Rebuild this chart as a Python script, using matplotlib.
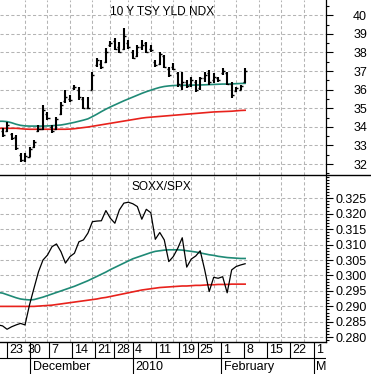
import numpy as np
import pandas as pd
import matplotlib
matplotlib.use('Agg')
import matplotlib.pyplot as plt
from matplotlib.lines import Line2D
from matplotlib.ticker import MultipleLocator

plt.rcParams['font.family'] = ['Liberation Sans', 'DejaVu Sans']

# ---------------- data ----------------
holidays = ['2009-11-26', '2009-12-25', '2010-01-01', '2010-01-18']
line_start, bar_start, data_end = '2009-11-19', '2009-11-20', '2010-02-10'

tsy_high = [33.92, 34.28, 33.65, 33.56, 32.58, 32.58, 32.93, 33.29, 34.10, 35.18,
            34.82, 34.10, 34.55, 35.35, 35.98, 35.71, 36.25, 36.16, 35.62, 35.62,
            36.97, 37.69, 37.60, 38.22, 38.63, 38.76, 38.58, 39.30, 38.67, 38.13,
            38.40, 38.67, 38.58, 38.40, 37.60, 38.04, 37.86, 37.24, 37.42, 36.97,
            36.97, 36.52, 36.70, 36.52, 36.70, 36.97, 37.06, 36.88, 36.70, 37.15,
            36.97, 36.43, 36.16, 36.25, 37.15]
tsy_low = [33.47, 33.74, 33.29, 32.75, 32.12, 32.10, 32.36, 32.85, 33.74, 33.83,
           34.37, 33.65, 33.83, 34.64, 35.27, 35.35, 35.98, 35.44, 34.94, 34.94,
           35.98, 37.24, 37.10, 37.42, 38.31, 38.13, 37.96, 38.13, 38.17, 37.63,
           37.77, 38.13, 37.96, 38.04, 37.24, 37.33, 37.15, 36.70, 37.06, 36.16,
           35.98, 36.07, 36.16, 35.89, 35.98, 36.43, 36.25, 36.34, 36.43, 36.79,
           36.25, 35.53, 35.89, 35.98, 36.34]
tsy_open = [33.80, 33.80, 33.60, 33.45, 32.50, 32.20, 32.40, 32.90, 33.80, 33.90,
            34.70, 34.00, 33.90, 34.70, 35.40, 35.50, 36.10, 36.00, 35.50, 35.00,
            36.00, 37.30, 37.40, 37.50, 38.40, 38.60, 38.30, 38.20, 38.50, 38.00,
            37.80, 38.30, 38.50, 38.20, 37.50, 37.40, 37.80, 37.10, 37.20, 36.90,
            36.20, 36.40, 36.30, 36.40, 36.10, 36.60, 36.90, 36.50, 36.60, 36.90,
            36.90, 36.30, 35.90, 36.00, 36.40]
tsy_close = [33.55, 34.10, 33.40, 32.85, 32.20, 32.45, 32.80, 33.20, 33.90, 34.90,
             34.50, 33.80, 34.40, 35.20, 35.60, 35.45, 36.15, 35.60, 35.00, 35.00,
             36.80, 37.60, 37.20, 38.00, 38.50, 38.20, 38.00, 38.90, 38.30, 37.70,
             38.30, 38.40, 38.05, 38.15, 37.30, 37.90, 37.20, 36.80, 37.10, 36.30,
             36.40, 36.20, 36.50, 36.00, 36.60, 36.80, 36.40, 36.70, 36.50, 37.00,
             36.30, 35.70, 36.10, 36.20, 37.00]
tsy_ma_short = [34.30, 34.30, 34.28, 34.22, 34.14, 34.08, 34.05, 34.04, 34.04, 34.04,
                34.04, 34.05, 34.06, 34.08, 34.10, 34.14, 34.19, 34.24, 34.30, 34.36,
                34.43, 34.55, 34.68, 34.82, 34.95, 35.07, 35.18, 35.29, 35.40, 35.50,
                35.60, 35.70, 35.80, 35.89, 35.97, 36.05, 36.12, 36.17, 36.20, 36.22,
                36.23, 36.23, 36.24, 36.24, 36.25, 36.25, 36.26, 36.27, 36.28, 36.29,
                36.30, 36.30, 36.31, 36.32, 36.33, 36.34]
tsy_ma_long = [33.92, 33.92, 33.92, 33.92, 33.92, 33.90, 33.88, 33.87, 33.87, 33.87,
               33.87, 33.87, 33.87, 33.87, 33.87, 33.87, 33.88, 33.90, 33.93, 33.96,
               33.99, 34.03, 34.07, 34.11, 34.15, 34.19, 34.23, 34.27, 34.31, 34.35,
               34.39, 34.43, 34.47, 34.50, 34.52, 34.54, 34.56, 34.58, 34.60, 34.62,
               34.64, 34.66, 34.68, 34.70, 34.72, 34.74, 34.76, 34.78, 34.80, 34.81,
               34.82, 34.83, 34.84, 34.86, 34.88, 34.89]

ratio = [0.2840, 0.2837, 0.2826, 0.2834, 0.2840, 0.2845, 0.2840, 0.2905, 0.2959, 0.3012,
         0.3050, 0.3066, 0.3093, 0.3102, 0.3077, 0.3040, 0.3061, 0.3072, 0.3109, 0.3115,
         0.3137, 0.3174, 0.3176, 0.3177, 0.3210, 0.3185, 0.3169, 0.3212, 0.3234, 0.3237,
         0.3232, 0.3223, 0.3182, 0.3214, 0.3203, 0.3117, 0.3139, 0.3115, 0.3045, 0.3061,
         0.3088, 0.3122, 0.3027, 0.3053, 0.3063, 0.3080, 0.3018, 0.2948, 0.2994, 0.2991,
         0.2996, 0.2944, 0.3018, 0.3029, 0.3034, 0.3038]
ratio_ma_short = [0.2945, 0.2943, 0.2938, 0.2933, 0.2928, 0.2924, 0.2922, 0.2921, 0.2922, 0.2926,
                  0.2930, 0.2935, 0.2940, 0.2945, 0.2950, 0.2955, 0.2960, 0.2965, 0.2971, 0.2977,
                  0.2983, 0.2990, 0.2997, 0.3004, 0.3011, 0.3019, 0.3026, 0.3033, 0.3040, 0.3047,
                  0.3054, 0.3059, 0.3064, 0.3069, 0.3074, 0.3078, 0.3080, 0.3082, 0.3083, 0.3083,
                  0.3083, 0.3082, 0.3080, 0.3078, 0.3076, 0.3073, 0.3070, 0.3067, 0.3065, 0.3062,
                  0.3060, 0.3058, 0.3057, 0.3056, 0.3055, 0.3055]
ratio_ma_long = [0.2900, 0.2900, 0.2900, 0.2900, 0.2900, 0.2900, 0.2900, 0.2900, 0.2900, 0.2901,
                 0.2902, 0.2903, 0.2904, 0.2906, 0.2908, 0.2910, 0.2912, 0.2914, 0.2916, 0.2918,
                 0.2920, 0.2922, 0.2924, 0.2927, 0.2929, 0.2932, 0.2935, 0.2938, 0.2941, 0.2944,
                 0.2947, 0.2950, 0.2953, 0.2955, 0.2957, 0.2959, 0.2961, 0.2962, 0.2963, 0.2964,
                 0.2965, 0.2966, 0.2966, 0.2967, 0.2968, 0.2968, 0.2969, 0.2970, 0.2970, 0.2971,
                 0.2971, 0.2971, 0.2972, 0.2972, 0.2972, 0.2972]

tsy_ticks = [32, 33, 34, 35, 36, 37, 38, 39, 40]
ratio_ticks = [0.280, 0.285, 0.290, 0.295, 0.300, 0.305, 0.310, 0.315, 0.320, 0.325]
month_names = {12: 'December', 1: '2010', 2: 'February', 3: 'March'}

# ---------------- trading-day calendar ----------------
cal = pd.bdate_range('2009-11-19', '2010-03-12')
cal = cal[~cal.isin(pd.to_datetime(holidays))]
xpos = pd.Series(np.arange(len(cal), dtype=float), index=cal)
x_line = xpos[line_start:data_end].values
x_bar = xpos[bar_start:data_end].values

iso = cal.isocalendar()
wk = (iso['year'].astype(str) + '-' + iso['week'].astype(str)).values
week_start = [i for i in range(1, len(cal)) if wk[i] != wk[i - 1]]
month_start = [i for i in range(1, len(cal)) if cal[i].month != cal[i - 1].month]

XL = (0.43, 70.68)

# ---------------- figure ----------------
W, H = 371, 374
fig = plt.figure(figsize=(W / 100, H / 100), dpi=100)


def rect(x0, y0, x1, y1):
    return [x0 / W, 1 - y1 / H, (x1 - x0) / W, (y1 - y0) / H]


ax1 = fig.add_axes(rect(0, 0, 326, 175))
ax2 = fig.add_axes(rect(0, 175, 326, 341.7))
ax3 = fig.add_axes(rect(0, 341.7, 326, 374))

grid_kw = dict(color='#b4b4b4', lw=0.75, ls=(0, (3.0, 2.2)))
teal, red = '#1f8a76', '#e8221c'

for ax in (ax1, ax2):
    ax.set_xlim(*XL)
    for s in ('left', 'top', 'bottom'):
        ax.spines[s].set_visible(False)
    ax.spines['right'].set_linewidth(0.9)
    ax.set_xticks([float(xpos.iloc[i]) for i in week_start[1:]])
    ax.tick_params(axis='x', length=0, labelbottom=False)
    ax.yaxis.tick_right()
    ax.tick_params(axis='y', which='major', length=5, width=0.8, pad=24.5,
                   labelsize=9, colors='black')
    ax.tick_params(axis='y', which='minor', length=2.5, width=0.8)
    ax.grid(True, which='major', **grid_kw)
    ax.set_axisbelow(True)

# top panel
ax1.set_ylim(31.41, 40.82)
ax1.set_yticks(tsy_ticks)
ax1.set_yticklabels([str(t) for t in tsy_ticks], ha='right')
ax1.yaxis.set_minor_locator(MultipleLocator(0.5))
ax1.plot(x_line, tsy_ma_long, color=red, lw=1.2, zorder=2)
ax1.plot(x_line, tsy_ma_short, color=teal, lw=1.2, zorder=2)
ax1.vlines(x_bar, tsy_low, tsy_high, color='black', lw=1.5, zorder=3)
ax1.hlines(tsy_open, x_bar - 0.45, x_bar, color='black', lw=1.0, zorder=3)
ax1.hlines(tsy_close, x_bar, x_bar + 0.45, color='black', lw=1.0, zorder=3)
ax1.text(0.496, 0.93, '10 Y TSY YLD NDX', transform=ax1.transAxes,
         ha='center', va='center', fontsize=8.6)

# bottom panel
ax2.set_ylim(0.27858, 0.3325)
ax2.set_yticks(ratio_ticks)
ax2.set_yticklabels(['%.3f' % t for t in ratio_ticks], ha='right')
ax2.yaxis.set_minor_locator(MultipleLocator(0.001))
ax2.plot(x_line, ratio_ma_long, color=red, lw=1.2, zorder=2)
ax2.plot(x_line, ratio_ma_short, color=teal, lw=1.2, zorder=2)
ax2.plot(x_line, ratio, color='black', lw=0.9, zorder=3)
ax2.text(0.496, 0.93, 'SOXX/SPX', transform=ax2.transAxes,
         ha='center', va='center', fontsize=8.6)

# date strip
ax3.set_xlim(*XL)
ax3.set_ylim(0, 1)
ax3.axis('off')
row = 15.7 / 32.3
ax3.axhline(1.0, color='black', lw=1.0, clip_on=False)
ax3.axhline(row, color='black', lw=0.8)
for i in week_start:
    p = float(xpos.iloc[i])
    if p < XL[0] or p > XL[1]:
        continue
    if not any(abs(p - m) < 1.5 for m in month_start):
        ax3.vlines(p, row, 1, color='black', lw=0.8)
    ax3.text(p + 0.45, 0.74, str(cal[i].day), ha='left', va='center',
             fontsize=9, clip_on=True)
for i in month_start:
    p = float(xpos.iloc[i])
    ax3.vlines(p, 0, 1, color='black', lw=0.8)
    ax3.text(p + 0.6, 0.23, month_names[cal[i].month], ha='left', va='center',
             fontsize=9, clip_on=True)

# panel divider across full width
fig.add_artist(Line2D([0, 1], [1 - 175 / H] * 2, color='black', lw=1.0,
                      transform=fig.transFigure))

fig.savefig('out.png', dpi=100)
